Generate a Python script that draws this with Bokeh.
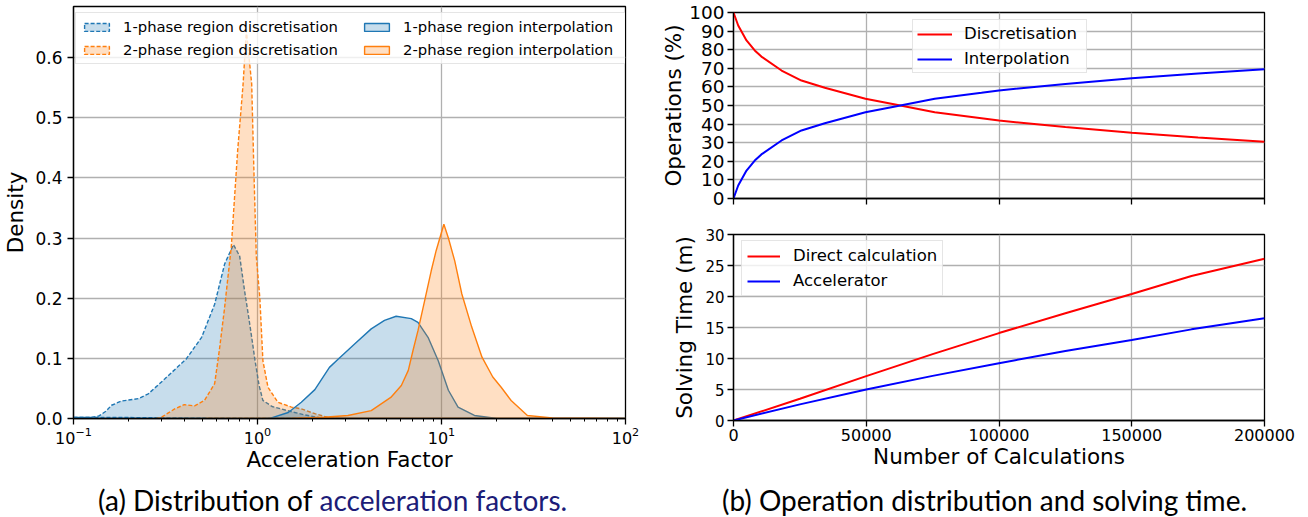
from bokeh.plotting import figure
from bokeh.models import (Legend, LegendItem, Label, SingleIntervalTicker, LogTicker,
                          NumeralTickFormatter, CustomJSTickFormatter)
from bokeh.layouts import row, column
from bokeh.embed import file_html
from bokeh.resources import INLINE

# ---- (a) density of the acceleration factor, per region and method ----
disc1_x = [0.10, 0.125, 0.137, 0.15, 0.161, 0.182, 0.225, 0.255, 0.314, 0.36, 0.41, 0.497,
           0.585, 0.663, 0.74, 0.80, 0.85, 0.89, 0.93, 0.97, 1.02, 1.07, 1.2, 1.5, 1.8, 2.2, 2.5]
disc1_y = [0.002, 0.002, 0.004, 0.012, 0.022, 0.029, 0.033, 0.041, 0.066, 0.083, 0.099, 0.135,
           0.19, 0.257, 0.289, 0.27, 0.213, 0.174, 0.135, 0.096, 0.055, 0.03, 0.02, 0.012, 0.006, 0.001, 0.0]

disc2_x = [0.28, 0.30, 0.355, 0.40, 0.455, 0.515, 0.585, 0.62, 0.66, 0.72, 0.78, 0.835, 0.87,
           0.93, 0.955, 0.985, 1.03, 1.07, 1.14, 1.29, 1.53, 1.73, 2.05, 2.4, 2.8]
disc2_y = [0.0, 0.002, 0.016, 0.023, 0.021, 0.03, 0.058, 0.113, 0.18, 0.285, 0.445, 0.556, 0.645,
           0.556, 0.417, 0.27, 0.2, 0.096, 0.052, 0.027, 0.019, 0.016, 0.008, 0.002, 0.0]

interp1_x = [0.1, 0.5, 1.1, 1.19, 1.47, 1.73, 2.05, 2.46, 2.75, 3.37, 4.15, 4.9, 5.67, 6.85,
             7.45, 8.45, 9.6, 10.9, 12.3, 15.1, 20.0, 100.0]
interp1_y = [0.0, 0.0, 0.0, 0.001, 0.01, 0.027, 0.048, 0.085, 0.099, 0.124, 0.149, 0.163, 0.17,
             0.166, 0.16, 0.135, 0.096, 0.047, 0.019, 0.005, 0.0, 0.0]

interp2_x = [0.52, 1.5, 2.3, 3.1, 4.15, 5.3, 6.05, 6.6, 7.0, 7.45, 8.1, 8.8, 9.35, 10.3, 10.9,
             11.8, 12.9, 14.6, 16.6, 19.0, 21.1, 23.9, 29.3, 40.0, 100.0]
interp2_y = [0.0, 0.0, 0.002, 0.005, 0.013, 0.035, 0.055, 0.08, 0.113, 0.146, 0.196, 0.246, 0.279,
             0.323, 0.3, 0.262, 0.207, 0.152, 0.102, 0.069, 0.052, 0.03, 0.005, 0.001, 0.0]

# ---- (b) share of operations and solving time vs number of calculations ----
calc_n = [0, 1770, 4900, 8000, 10500, 18100, 25600, 34400, 49700, 61400, 75800, 93400,
          100000, 125000, 150000, 175000, 200000]
discretisation_pct = [100, 93, 85, 79.6, 76.3, 68.8, 63.4, 59.5, 53.6, 50.4, 46.4, 43.2,
                      41.9, 38.4, 35.3, 32.8, 30.5]
interpolation_pct = [0, 7, 15, 20.4, 23.7, 31.2, 36.6, 40.5, 46.4, 49.6, 53.6, 56.8,
                     58.1, 61.6, 64.7, 67.2, 69.5]

time_n = [0, 25000, 50000, 75000, 100000, 125000, 150000, 172500, 200000]
direct_min = [0, 3.5, 7.15, 10.7, 14.1, 17.3, 20.4, 23.3, 26.1]
accel_min = [0, 2.6, 5.0, 7.2, 9.25, 11.2, 13.0, 14.7, 16.5]

BLUE = "#1f77b4"
ORANGE = "#ff7f0e"
TICK_FONT = "DejaVu Sans"
LABEL_FONT = "DejaVu Sans"
CAPTION_FONT = "Lato"
GRID = "#b0b0b0"


def style(p, tick_size):
    p.outline_line_color = "black"
    p.outline_line_width = 1.3
    p.outline_line_alpha = 1.0
    p.background_fill_color = "white"
    p.border_fill_color = "white"
    for ax in p.axis:
        ax.axis_line_color = "black"
        ax.axis_line_width = 1.3
        ax.major_tick_line_color = "black"
        ax.major_tick_line_width = 1.3
        ax.major_tick_out = 6
        ax.major_tick_in = 0
        ax.minor_tick_line_color = None
        ax.major_label_text_font = TICK_FONT
        ax.major_label_text_font_size = tick_size
        ax.major_label_text_color = "black"
        ax.major_label_standoff = 3
        ax.axis_label_text_font = LABEL_FONT
        ax.axis_label_text_font_style = "normal"
        ax.axis_label_text_color = "black"
        ax.axis_label_text_font_size = "21.5px"
        ax.axis_label_standoff = 1
    p.grid.grid_line_color = GRID
    p.grid.grid_line_width = 1.3


# ================= left panel =================
left = figure(x_axis_type="log", x_range=(0.1, 100), y_range=(0, 0.685),
              frame_width=552, frame_height=412,
              min_border_left=72, min_border_right=20, min_border_top=6, min_border_bottom=62,
              output_backend="svg", toolbar_location=None)
style(left, "17px")
left.xaxis.ticker = LogTicker(num_minor_ticks=10)
left.xaxis.minor_tick_line_color = "black"
left.xaxis.minor_tick_line_width = 1.0
left.xaxis.minor_tick_out = 3
left.xaxis.minor_tick_in = 0
left.xaxis.major_label_text_font_size = "16px"
left.xaxis.major_label_standoff = 2
left.xaxis.axis_label_standoff = 0
left.yaxis.ticker = SingleIntervalTicker(interval=0.1)
left.yaxis.formatter = NumeralTickFormatter(format="0.0")
left.yaxis.major_label_standoff = 5
left.yaxis.axis_label_standoff = 4
left.xaxis.axis_label = "Acceleration Factor"
left.yaxis.axis_label = "Density"

r_d1 = left.patch(disc1_x, disc1_y, fill_color=BLUE, fill_alpha=0.25,
                  line_color=BLUE, line_dash="4 2", line_width=1.4)
r_d2 = left.patch(disc2_x, disc2_y, fill_color=ORANGE, fill_alpha=0.25,
                  line_color=ORANGE, line_dash="4 2", line_width=1.4)
r_i1 = left.patch(interp1_x, interp1_y, fill_color=BLUE, fill_alpha=0.25,
                  line_color=BLUE, line_width=1.4)
r_i2 = left.patch(interp2_x, interp2_y, fill_color=ORANGE, fill_alpha=0.25,
                  line_color=ORANGE, line_width=1.4)


def legend_style(lg, size, glyph_w, glyph_h, label_h, standoff, spacing, pad):
    lg.label_text_font = TICK_FONT
    lg.label_text_font_size = size
    lg.label_text_color = "black"
    lg.glyph_width = glyph_w
    lg.glyph_height = glyph_h
    lg.label_height = label_h
    lg.label_standoff = standoff
    lg.spacing = spacing
    lg.padding = pad
    lg.margin = 0
    lg.border_line_color = "#cccccc"
    lg.border_line_width = 1
    lg.background_fill_color = "white"
    lg.background_fill_alpha = 0.8


leg_a = Legend(items=[LegendItem(label="1-phase region discretisation", renderers=[r_d1]),
                      LegendItem(label="2-phase region discretisation", renderers=[r_d2])],
               location=(2, 354))
legend_style(leg_a, "14.8px", 31, 10, 16, 11, 6, 5)
leg_a.label_width = 498
leg_b = Legend(items=[LegendItem(label="1-phase region interpolation", renderers=[r_i1]),
                      LegendItem(label="2-phase region interpolation", renderers=[r_i2])],
               location=(288, 360))
legend_style(leg_b, "14.8px", 31, 10, 16, 11, 6, 5)
leg_b.border_line_color = None
leg_b.background_fill_alpha = 0
left.add_layout(leg_a)
left.add_layout(leg_b)

# ================= right panels =================
top = figure(x_range=(0, 200000), y_range=(0, 100), frame_width=531, frame_height=186,
             min_border_left=88, min_border_right=45, min_border_top=12, min_border_bottom=25,
             output_backend="svg", toolbar_location=None)
style(top, "18.5px")
top.xaxis.ticker = SingleIntervalTicker(interval=50000)
top.xaxis.formatter = CustomJSTickFormatter(code="return ''")
top.xaxis.major_label_text_font_size = "1px"
top.yaxis.ticker = SingleIntervalTicker(interval=10)
top.yaxis.axis_label = "Operations (%)"
top.yaxis.axis_label_standoff = 0

l_disc = top.line(calc_n, discretisation_pct, line_color="red", line_width=2)
l_interp = top.line(calc_n, interpolation_pct, line_color="blue", line_width=2)
leg_top = Legend(items=[LegendItem(label="Discretisation", renderers=[l_disc]),
                        LegendItem(label="Interpolation", renderers=[l_interp])],
                 location=(179, 125))
legend_style(leg_top, "16.5px", 35, 18, 18, 12, 6, 4)
leg_top.label_width = 118
top.add_layout(leg_top)

bot = figure(x_range=(0, 200000), y_range=(0, 30), frame_width=531, frame_height=186,
             min_border_left=88, min_border_right=45, min_border_top=11, min_border_bottom=60,
             output_backend="svg", toolbar_location=None)
style(bot, "16px")
bot.yaxis.major_label_text_font_size = "15px"
bot.xaxis.major_label_standoff = 2
bot.xaxis.axis_label_standoff = 0
bot.yaxis.axis_label_standoff = 5
bot.xaxis.ticker = SingleIntervalTicker(interval=50000)
bot.xaxis.formatter = NumeralTickFormatter(format="0")
bot.yaxis.ticker = SingleIntervalTicker(interval=5)
bot.xaxis.axis_label = "Number of Calculations"
bot.yaxis.axis_label = "Solving Time (m)"

l_direct = bot.line(time_n, direct_min, line_color="red", line_width=2)
l_accel = bot.line(time_n, accel_min, line_color="blue", line_width=2)
leg_bot = Legend(items=[LegendItem(label="Direct calculation", renderers=[l_direct]),
                        LegendItem(label="Accelerator", renderers=[l_accel])],
                 location=(8, 124))
legend_style(leg_bot, "16.5px", 33, 18, 19, 13, 6, 5)
bot.add_layout(leg_bot)

# ================= sub-figure captions =================
captions = figure(width=1308, height=37, x_range=(0, 1308), y_range=(0, 37),
                  min_border=0, x_axis_location=None, y_axis_location=None,
                  output_backend="svg", toolbar_location=None)
captions.outline_line_color = None
captions.grid.visible = False
CAP_SIZE = "28px"
CAP_Y = 18
captions.add_layout(Label(x=312, y=CAP_Y, x_units="screen", y_units="screen",
                          text="(a) Distribution of", text_align="right",
                          text_baseline="alphabetic", text_font=CAPTION_FONT,
                          text_font_size=CAP_SIZE, text_color="black"))
captions.add_layout(Label(x=319, y=CAP_Y, x_units="screen", y_units="screen",
                          text="acceleration factors.", text_align="left",
                          text_baseline="alphabetic", text_font=CAPTION_FONT,
                          text_font_size=CAP_SIZE, text_color="#1c1c78"))
captions.add_layout(Label(x=984, y=CAP_Y, x_units="screen", y_units="screen",
                          text="(b) Operation distribution and solving time.", text_align="center",
                          text_baseline="alphabetic", text_font=CAPTION_FONT,
                          text_font_size=CAP_SIZE, text_color="black"))

layout = column(row(left, column(top, bot, spacing=0), spacing=0), captions, spacing=0)
open("out.html", "w").write(file_html(layout, INLINE))
